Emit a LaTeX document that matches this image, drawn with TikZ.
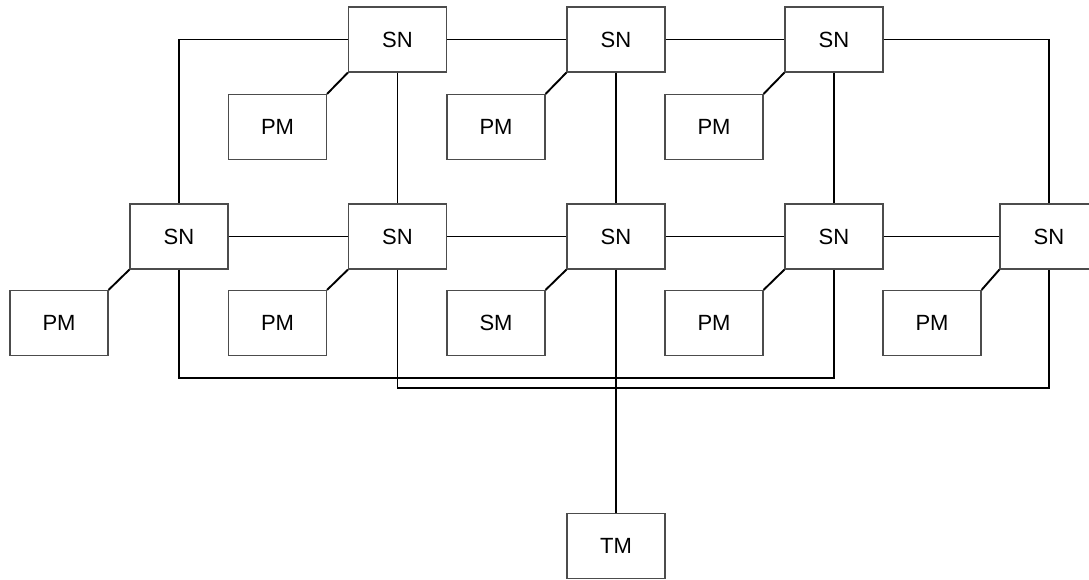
\documentclass[tikz,border=0pt]{standalone}
\usepackage{fontspec}
\setmainfont{Liberation Sans}
\begin{document}
\begin{tikzpicture}[x=1pt,y=-1pt,
  box/.style={draw=black!70, line width=1.1pt, fill=white, rectangle,
    minimum width=98pt, minimum height=65pt, inner sep=0pt,
    font=\fontsize{22}{24}\selectfont},
  wire/.style={draw=black, line width=1.9pt}]
\useasboundingbox (0,0) rectangle (1089,580);
% connectors first
\coordinate (l1) at (834,378);
\coordinate (l2) at (1049,388);
\path
 (397.5,39.5) coordinate (ct1) (616,39.5) coordinate (ct2) (834,39.5) coordinate (ct3)
 (179,236.5) coordinate (cm1) (397.5,236.5) coordinate (cm2) (616,236.5) coordinate (cm3)
 (834,236.5) coordinate (cm4) (1049,236.5) coordinate (cm5);
% nodes
\node[box] (t1) at (ct1) {SN};
\node[box] (t2) at (ct2) {SN};
\node[box] (t3) at (ct3) {SN};
\node[box] (tp1) at (277.5,127) {PM};
\node[box] (tp2) at (496,127) {PM};
\node[box] (tp3) at (714,127) {PM};
\node[box] (m1) at (cm1) {SN};
\node[box] (m2) at (cm2) {SN};
\node[box] (m3) at (cm3) {SN};
\node[box] (m4) at (cm4) {SN};
\node[box] (m5) at (cm5) {SN};
\node[box] (mp1) at (59,323) {PM};
\node[box] (mp2) at (277.5,323) {PM};
\node[box] (ms3) at (496,323) {SM};
\node[box] (mp4) at (714,323) {PM};
\node[box] (mp5) at (932,323) {PM};
\node[box] (tm) at (616,546) {TM};
% wires
\draw[wire] (t1.west) -| (m1.north);
\draw[wire] (t3.east) -| (m5.north);
\draw[wire] (t1) -- (t2);
\draw[wire] (t2) -- (t3);
\draw[wire] (t1.south) -- (m2.north);
\draw[wire] (t2.south) -- (m3.north);
\draw[wire] (t3.south) -- (m4.north);
\draw[wire] (m1) -- (m2);
\draw[wire] (m2) -- (m3);
\draw[wire] (m3) -- (m4);
\draw[wire] (m4) -- (m5);
\draw[wire] (m1.south) |- (l1) -- (m4.south);
\draw[wire] (m2.south) |- (l2) -- (m5.south);
\draw[wire] (m3.south) -- (tm.north);
\draw[wire] (t1.south west) -- (tp1.north east);
\draw[wire] (t2.south west) -- (tp2.north east);
\draw[wire] (t3.south west) -- (tp3.north east);
\draw[wire] (m1.south west) -- (mp1.north east);
\draw[wire] (m2.south west) -- (mp2.north east);
\draw[wire] (m3.south west) -- (ms3.north east);
\draw[wire] (m4.south west) -- (mp4.north east);
\draw[wire] (m5.south west) -- (mp5.north east);
\end{tikzpicture}
\end{document}
